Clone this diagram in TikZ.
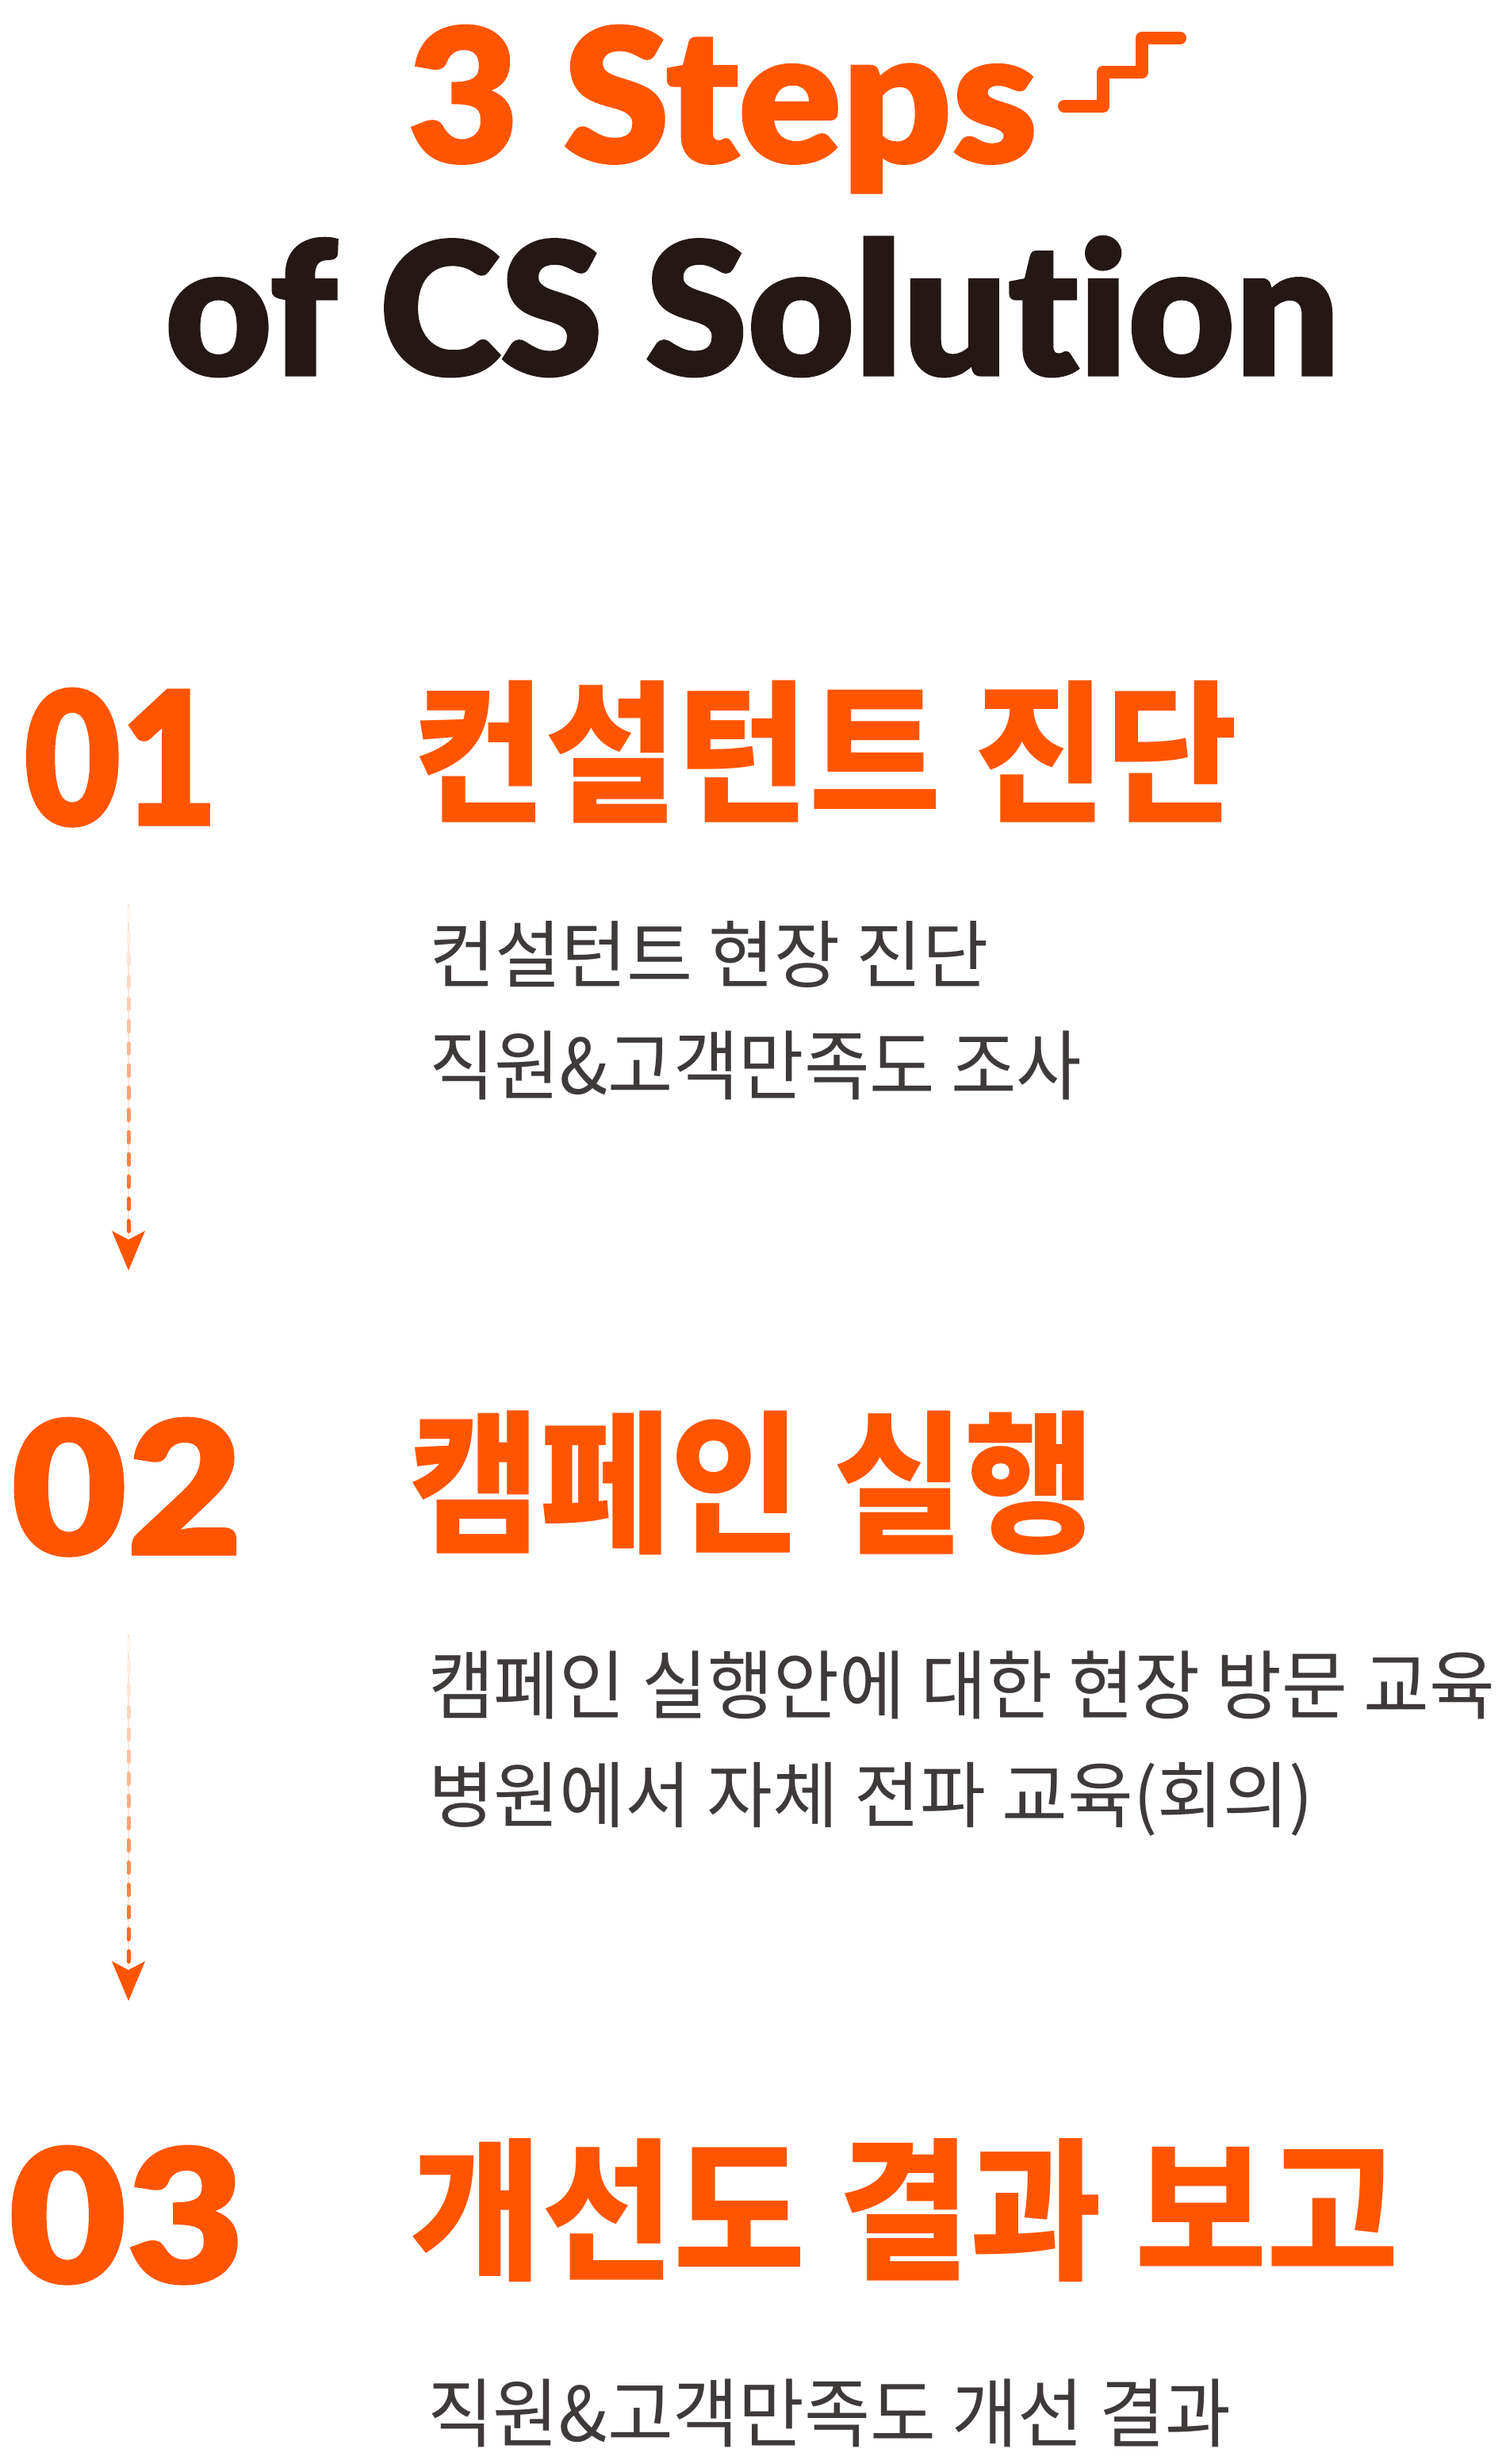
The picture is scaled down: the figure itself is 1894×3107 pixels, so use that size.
\documentclass[tikz,border=0pt]{standalone}
\usepackage{fontspec}
\usepackage{graphicx}
\usetikzlibrary{calc}
\IfFontExistsTF{Lato Black}
  {\newfontfamily\latinheavy{Lato Black}[Ligatures=NoCommon, FakeBold=1.2]\newcommand\latinbf{}}
  {\newfontfamily\latinheavy{TeX Gyre Heros}[BoldFeatures={FakeBold=2}]\newcommand\latinbf{\bfseries}}
\IfFontExistsTF{Noto Sans CJK KR Black}
  {\newfontfamily\krheavy{Noto Sans CJK KR Black}\newcommand\krbf{}}
  {\newfontfamily\krheavy{Noto Sans CJK KR}[BoldFeatures={FakeBold=1.5}]\newcommand\krbf{\bfseries}}
\newfontfamily\krbody{Noto Sans CJK KR}
\definecolor{brand}{RGB}{255,85,0}
\definecolor{inkblack}{HTML}{231815}
\definecolor{bodygray}{HTML}{3E3A39}
\newcommand\fitbox[3]{\resizebox*{#1pt}{#2pt}{#3}}
\tikzset{
  txt/.style={anchor=north west, inner sep=0pt, outer sep=0pt},
  bignum/.style={txt, text=brand, font=\latinheavy\latinbf},
  headkr/.style={txt, text=brand, font=\krheavy\krbf},
  bodykr/.style={txt, text=bodygray, font=\krbody},
  dashseg/.style={line width=5pt, line cap=round},
  guide/.style={line width=1.5pt, draw=brand!16!white},
  arrowtip/.style={fill=brand},
  stairs/.style={draw=brand, line width=16pt, line cap=round, line join=round}
}
\begin{document}
\begin{tikzpicture}[x=1pt, y=-1pt]
\useasboundingbox (0,0) rectangle (1894,3107);
\fill[white] (0,0) rectangle (1894,3107);

% title
\node[txt, text=brand, font=\latinheavy\latinbf] (steps) at (514,32) {\fitbox{794}{211}{3 Steps}};
\draw[stairs] (1342,134) -- (1391,134) -- (1391,91) -- (1440,91) -- (1440,48) -- (1488,48);
\node[txt, text=inkblack, font=\latinheavy\latinbf] (sol) at (208,298) {\fitbox{1480}{177}{of CS Solution}};

% step 1
\node[bignum] (n1) at (30,868) {\fitbox{245}{174}{01}};
\node[headkr] (h1) at (521,858) {\fitbox{1038}{180}{컨설턴트 진단}};
\node[bodykr] (b1a) at (541,1161) {\fitbox{705}{84}{컨설턴트 현장 진단}};
\node[bodykr] (b1b) at (541,1300) {\fitbox{823}{87}{직원\&고객만족도 조사}};

% step 2
\node[bignum] (n2) at (14,1788) {\fitbox{292}{174}{02}};
\node[headkr] (h2) at (516,1779) {\fitbox{865}{182}{캠페인 실행}};
\node[bodykr] (b2a) at (540,2082) {\fitbox{1345}{86}{캠페인 실행안에 대한 현장 방문 교육}};
\node[bodykr] (b2b) at (540,2222) {\fitbox{1116}{93}{병원에서 자체 전파 교육(회의)}};

% step 3
\node[bignum] (n3) at (11,2706) {\fitbox{297}{174}{03}};
\node[headkr] (h3) at (517,2697) {\fitbox{1245}{181}{개선도 결과 보고}};
\node[bodykr] (b3) at (539,3000) {\fitbox{1013}{86}{직원\&고객만족도 개선 결과}};

% arrows
\coordinate (arr1) at (162,1145);
\coordinate (arr2) at (162,2066);
\foreach \a in {arr1,arr2}{
  \draw[guide] ($(\a)+(0,-5)$) -- ($(\a)+(0,415)$);
  \foreach \k in {0,...,14}{
    \pgfmathtruncatemacro\pct{4+6.4*\k}
    \draw[dashseg, draw=brand!\pct!white] ($(\a)+(0,28*\k+2.5)$) -- ($(\a)+(0,28*\k+15.5)$);
  }
  \fill[arrowtip] ($(\a)+(-21,407)$) -- ($(\a)+(0,418)$) -- ($(\a)+(21,407)$) -- ($(\a)+(0,457)$) -- cycle;
}
\end{tikzpicture}
\end{document}
